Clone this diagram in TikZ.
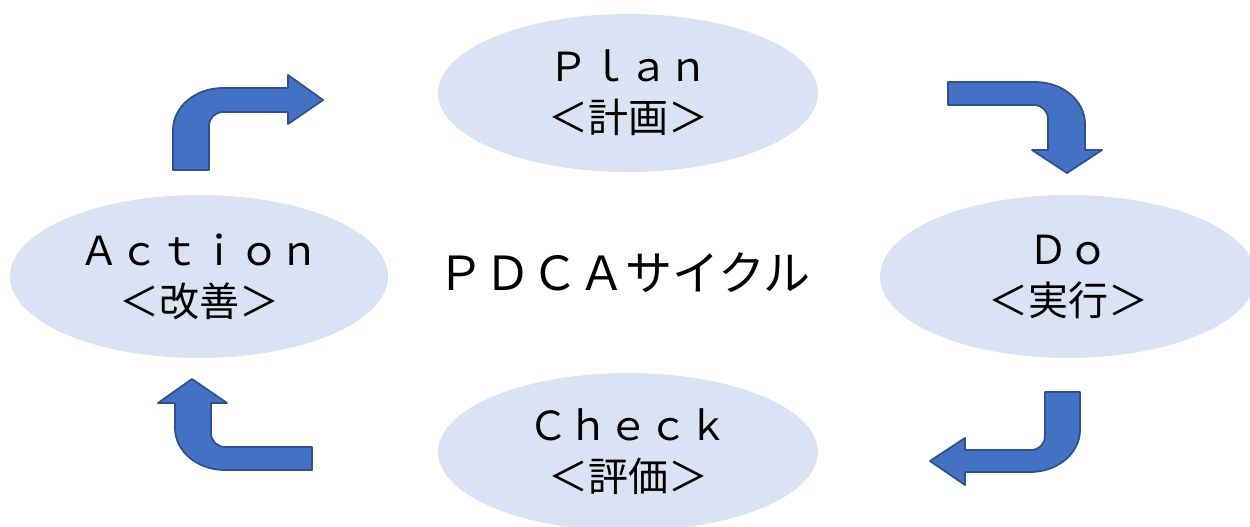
\documentclass[tikz,border=0pt]{standalone}
\usepackage{fontspec}
\newfontfamily\jp{Noto Sans CJK JP}
\usetikzlibrary{shapes.geometric}
\definecolor{ellfill}{HTML}{DAE3F3}
\definecolor{arrfill}{HTML}{4472C4}
\definecolor{arrline}{HTML}{2F528F}
\tikzset{
  phase/.style={ellipse, fill=ellfill, draw=none, inner sep=0pt, align=center,
    font=\jp\fontsize{40}{51}\selectfont, text=black},
  bentarrow/.style={fill=arrfill, draw=arrline, line width=1.8pt, line join=round},
}
\begin{document}
\begin{tikzpicture}[x=1pt,y=-1pt]
\useasboundingbox (0,0) rectangle (1250,527);
\node[phase, minimum width=380pt, minimum height=158pt] (plan) at (628,93) {Ｐｌａｎ\\＜計画＞};
\node[phase, minimum width=376pt, minimum height=163pt] (do) at (1068,276.5) {Ｄｏ\\＜実行＞};
\node[phase, minimum width=380pt, minimum height=158pt] (check) at (628,452) {Ｃｈｅｃｋ\\＜評価＞};
\node[phase, minimum width=378pt, minimum height=163pt] (action) at (199,276.5) {Ａｃｔｉｏｎ\\＜改善＞};
\node[font=\jp\fontsize{47}{50}\selectfont, text=black, inner sep=0pt] (title) at (624,273) {ＰＤＣＡサイクル};
% Action -> Plan
\draw[bentarrow] (173,170) -- (173,130) .. controls (173,107) and (195,88) .. (223,88) -- (288,88) -- (288,75) -- (323,100) -- (288,124) -- (288,112) -- (223,112) .. controls (215,112) and (209,118) .. (209,126) -- (209,170) -- cycle;
% Plan -> Do
\draw[bentarrow] (948,82) -- (1035,82) .. controls (1063,82) and (1085,101) .. (1085,124) -- (1085,150) -- (1102,150) -- (1067,173) -- (1032,150) -- (1048,150) -- (1048,119) .. controls (1048,111) and (1042,105) .. (1034,105) -- (948,105) -- cycle;
% Do -> Check
\draw[bentarrow] (1045,392) -- (1080,392) -- (1080,430) .. controls (1080,453) and (1058,472) .. (1030,472) -- (965,472) -- (965,485) -- (930,461) -- (965,438) -- (965,450) -- (1031,450) .. controls (1039,450) and (1045,444) .. (1045,436) -- cycle;
% Check -> Action
\draw[bentarrow] (312,447) -- (225,447) .. controls (217,447) and (211,441) .. (211,433) -- (211,403) -- (227,403) -- (192,379) -- (158,403) -- (175,403) -- (175,428) .. controls (175,451) and (197,470) .. (225,470) -- (312,470) -- cycle;
\end{tikzpicture}
\end{document}
